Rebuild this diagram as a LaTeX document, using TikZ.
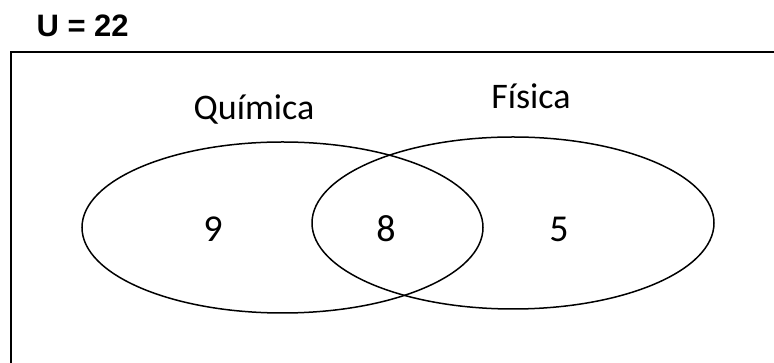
\documentclass[tikz,border=0pt]{standalone}
\usepackage{fontspec}
\newfontfamily\setfont{Carlito}
\newfontfamily\headfont{Liberation Sans}
\begin{document}
\begin{tikzpicture}[scale=1.000000,x=1pt,y=1pt,
  setlabel/.style={font=\setfont\fontsize{36}{40}\selectfont},
  setcount/.style={font=\setfont\fontsize{38}{42}\selectfont},
  setline/.style={line width=1.5pt}]
\clip (0.000000, 0.000000) rectangle (774.000000, 363.000000);
% Drawing universe
\node[anchor=base west,font=\headfont\bfseries\fontsize{31}{34}\selectfont] (universe) at (33.000000, 326.000000) {U = 22};
\draw[line width=2pt] (11.000000, -20.000000) rectangle (800.000000, 311.000000);
% Drawing sets
\draw[setline] (282.500000, 135.500000) ellipse (200.500000pt and 85.500000pt);
\draw[setline] (513.000000, 140.000000) ellipse (201.000000pt and 86.000000pt);
\node[setlabel,anchor=base] (quimica) at (254.000000, 243.000000) {Química};
\node[setlabel,anchor=base] (fisica) at (531.000000, 254.000000) {Física};
% Drawing counts
\node[setcount] (onlyq) at (213.000000, 134.000000) {9};
\node[setcount] (both) at (386.000000, 134.000000) {8};
\node[setcount] (onlyf) at (559.000000, 134.000000) {5};
\end{tikzpicture}
\end{document}
